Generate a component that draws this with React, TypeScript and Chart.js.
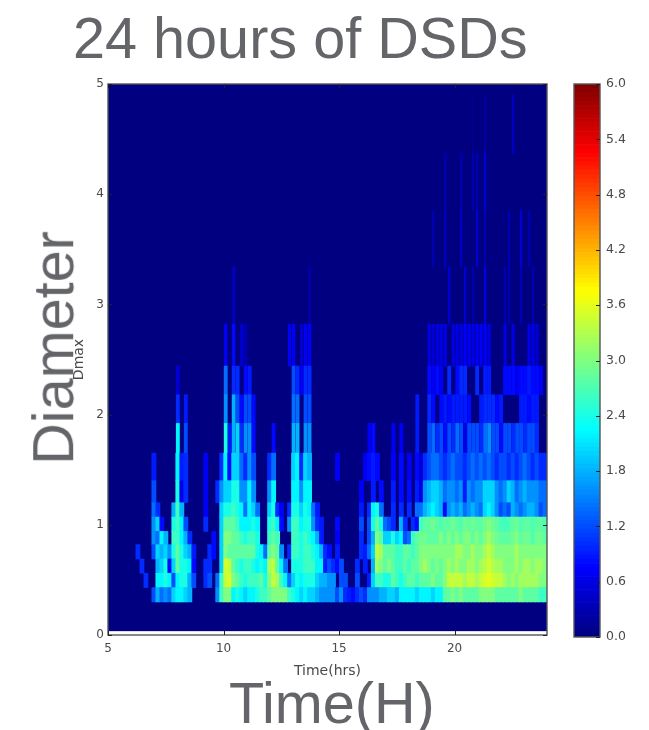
import React, { useEffect, useRef } from "react";
import { Chart, registerables } from "chart.js";

Chart.register(...registerables);

// Diameter bin edges (mm)
const diameterEdges = [0.3, 0.43, 0.56, 0.69, 0.82, 0.94, 1.07, 1.2, 1.4, 1.65, 1.92, 2.18, 2.44, 2.82, 3.34, 3.85, 4.37, 4.9];
const xTicksMin = 5;
const xTicksMax = 24;
const yMax = 5;
const heatFloor = 0.035;
const colorbarMax = 6;
const columnCount = 110;

// One list per diameter bin, one value per time column
const bin0 = [
  0,0,0,0,0,0,0,0,0,0,
  0,1.2,1.8,1.4,1.6,1.4,2.0,2.2,2.2,2.0,
  1.8,0,0,0,0,0,0,1.6,2.6,3.0,
  3.0,2.2,2.4,2.2,2.0,2.2,2.2,2.4,2.6,2.6,
  2.8,3.0,3.0,3.0,3.0,2.6,2.4,2.2,2.0,2.2,
  2.0,2.0,1.8,1.6,1.6,1.6,1.6,1.2,1.6,1.0,
  0.9,0.8,1.0,1.2,1.0,1.6,1.6,1.6,1.8,1.8,
  2.0,2.0,1.8,2.2,2.2,2.2,2.2,2.0,2.2,2.2,
  2.2,2.0,2.2,2.2,2.8,2.8,3.0,2.8,3.0,2.8,
  2.8,2.8,2.8,3.0,3.0,3.0,3.0,2.8,2.8,2.8,
  2.8,2.8,2.8,3.0,2.8,2.8,2.8,2.8,2.6,2.6,
];
const bin1 = [
  0,0,0,0,0,0,0,0,0,1.0,
  0,0,2.2,2.2,2.4,2.2,1.2,2.2,2.4,2.4,
  1.8,1.2,0,0,1.0,1.2,0,1.4,2.6,3.4,
  3.5,3.0,2.8,2.6,2.4,2.6,2.6,2.6,2.8,2.4,
  3.0,3.4,3.2,2.6,2.2,1.4,2.0,2.4,2.2,2.4,
  2.4,2.4,2.0,1.8,1.8,1.6,1.6,0,1.2,1.2,
  0,0,1.2,0,0,0.9,2.0,2.6,2.6,2.4,
  2.4,2.8,2.6,2.4,2.6,2.8,2.8,2.6,2.8,2.8,
  2.8,3.0,2.8,2.8,3.0,3.4,3.4,3.4,3.4,3.2,
  3.4,3.4,3.2,3.4,3.5,3.6,3.5,3.4,3.4,3.2,
  3.0,3.2,3.0,3.2,3.2,3.2,3.2,3.2,3.0,3.0,
];
const bin2 = [
  0,0,0,0,0,0,0,0,1.0,0,
  0,0,1.8,2.0,2.4,0.8,2.0,2.8,2.4,2.4,
  2.2,0.8,0,0,1.0,1.0,0,0,2.0,3.5,
  3.4,2.8,2.6,2.4,2.6,2.6,2.4,2.2,2.4,2.2,
  3.2,3.4,2.8,2.2,1.4,0,2.4,2.4,2.4,2.6,
  2.6,2.6,2.2,2.2,0.9,1.2,1.0,0.8,1.2,0,
  0,0,1.0,0,0.9,0,1.8,3.2,3.0,2.8,
  3.0,2.8,2.6,2.6,2.8,2.6,2.8,2.8,3.0,3.2,
  3.0,2.8,3.0,2.8,3.0,3.2,3.0,3.2,3.0,3.0,
  3.2,3.2,3.0,3.2,3.3,3.5,3.3,3.2,3.2,3.0,
  3.0,3.0,3.2,3.0,3.2,3.2,3.0,3.2,3.2,3.0,
];
const bin3 = [
  0,0,0,0,0,0,0,1.0,0,0,
  0,1.2,2.0,1.8,2.0,1.6,2.4,2.8,2.4,2.0,
  1.8,0.9,0,0,0,1.0,0.8,0,2.0,3.0,
  2.8,2.8,2.8,2.8,2.8,2.8,2.8,2.4,2.2,1.4,
  2.8,3.0,2.8,1.6,0,1.0,2.6,2.6,2.4,2.6,
  2.6,2.4,2.2,1.8,1.0,0.8,0,0.9,0,0,
  0,0,0,1.0,0.9,1.4,2.0,3.4,3.2,2.8,
  2.8,2.8,2.6,2.6,2.8,2.8,2.6,2.8,3.0,3.0,
  3.0,3.0,3.0,3.0,3.0,3.0,3.0,3.2,3.2,3.0,
  3.0,3.2,3.0,3.0,3.2,3.4,3.2,3.0,3.0,3.0,
  3.0,3.0,3.2,3.0,3.0,3.0,3.0,3.0,3.0,3.0,
];
const bin4 = [
  0,0,0,0,0,0,0,0,0,0,
  0,1.6,1.4,2.2,1.8,0,2.6,2.6,2.2,1.8,
  1.0,0,0,0,0,0,0.8,0,2.0,3.0,
  3.0,2.8,2.8,2.6,2.4,2.6,2.6,2.4,0,0,
  2.6,2.8,2.6,0,0,0,2.6,2.6,2.4,2.6,
  2.4,2.2,1.8,0.9,0,0,0,0.7,0,0,
  0,0,0,1.0,0,1.2,1.8,3.0,2.8,2.0,
  2.0,2.4,2.0,2.2,1.2,1.4,2.6,2.8,2.9,2.9,
  2.8,2.8,2.8,3.0,2.8,3.0,2.8,3.0,2.8,3.0,
  3.0,2.8,3.0,2.8,3.0,3.2,3.0,2.9,2.8,2.8,
  2.8,2.9,3.0,2.8,2.9,2.9,2.7,2.9,2.9,2.8,
];
const bin5 = [
  0,0,0,0,0,0,0,0,0,0,
  0,1.6,2.0,0.8,0,0,2.4,2.6,2.2,1.2,
  0,0,0,0,1.0,0,0,0,2.0,2.8,
  2.8,2.8,2.6,2.2,2.2,2.2,2.4,2.2,0,0,
  2.4,2.6,2.2,0.8,0,1.6,2.6,2.6,2.2,2.4,
  2.4,1.6,1.0,0.9,0,0,0,0.8,0,0,
  0,0,0,1.2,0,1.2,2.4,2.8,2.4,1.4,
  1.2,1.0,0,1.8,1.0,0,1.0,0.8,2.6,2.8,
  2.8,2.9,2.8,2.7,2.8,2.8,2.9,2.8,2.7,2.9,
  2.8,2.9,2.8,2.8,2.9,3.0,2.9,2.8,2.7,2.6,
  2.7,2.8,2.9,2.7,2.8,2.8,2.7,2.8,2.8,2.7,
];
const bin6 = [
  0,0,0,0,0,0,0,0,0,0,
  0,1.4,1.0,0,0,0,1.8,2.6,1.8,0,
  0,0,0,0,0.7,0,0,0,2.0,2.4,
  2.4,2.6,2.4,2.2,1.4,2.2,2.0,1.4,0,0,
  2.0,2.4,1.0,0.7,0,1.0,2.4,2.4,2.0,2.4,
  2.2,1.4,0.9,0,0,0,0,0,0,0,
  0,0,0,0.9,0,1.0,2.2,2.4,1.4,0,
  0,1.0,0,1.0,0,1.0,0,1.4,1.4,1.8,
  2.0,2.2,2.0,1.8,0.8,1.6,1.8,1.6,1.8,1.4,
  1.6,1.8,1.6,1.4,2.0,2.2,2.0,1.6,1.2,1.4,
  1.2,1.8,1.6,1.4,1.6,1.8,1.8,1.6,1.2,1.4,
];
const bin7 = [
  0,0,0,0,0,0,0,0,0,0,
  0,1.2,0,0,0,0,0,2.4,0.6,1.0,
  0,0,0,0,0.7,0,0,1.0,1.6,2.0,
  2.0,2.4,2.4,1.6,1.6,2.2,1.6,0,0,0,
  1.6,2.2,0,0,0,0,2.2,2.2,1.6,2.2,
  2.2,0,0,0,0,0,0,0,0,0,
  0,0,0,0.7,0,0,0.9,0,0.8,0,
  0,0.9,0,0.8,0,0.8,0,0.9,0.6,1.6,
  1.8,2.0,2.0,1.8,1.4,1.6,1.6,1.4,1.6,0.9,
  1.6,1.4,1.6,1.6,2.0,2.0,2.0,1.6,1.4,1.6,
  2.0,1.8,1.4,1.6,1.8,1.6,1.6,1.6,1.4,1.4,
];
const bin8 = [
  0,0,0,0,0,0,0,0,0,0,
  0,0.9,0,0,0,0,0,2.2,0.9,1.0,
  0,0,0,0,0.7,0,0,0,1.0,2.2,
  0.8,2.0,2.0,1.4,1.0,1.6,1.2,0,0,0,
  1.0,1.4,0,0,0,0,2.0,2.2,1.0,2.0,
  1.8,0,0,0,0,0,0,0.7,0,0,
  0,0,0,0,0.7,0.8,0.9,0.8,0,0,
  0,0.7,0,0.8,0,0.7,0,0.8,0.5,1.0,
  1.2,1.4,1.4,1.2,1.0,1.2,1.4,1.2,1.2,1.0,
  1.2,1.4,1.2,1.4,1.2,1.4,1.2,1.0,1.2,1.2,
  1.0,1.2,1.0,1.2,1.4,1.2,1.0,1.2,1.0,1.0,
];
const bin9 = [
  0,0,0,0,0,0,0,0,0,0,
  0,0,0,0,0,0,0,2.2,0,1.2,
  0,0,0,0,0,0,0,0,0,2.4,
  0.9,1.8,2.0,1.0,1.6,1.6,0.8,0,0,0,
  0,0.8,0,0,0,0,1.8,1.8,0,1.6,
  1.6,0,0,0,0,0,0,0,0,0,
  0,0,0,0,0,0.7,0.8,0,0,0,
  0,0.7,0,0.7,0,0,0,0.9,0,0,
  1.2,1.4,1.0,1.2,0.8,1.2,1.0,1.4,1.2,0.6,
  1.2,1.2,1.2,1.0,1.4,1.6,1.2,1.2,0.8,1.2,
  1.2,1.0,1.2,1.2,1.0,1.2,1.2,1.0,0,0,
];
const bin10 = [
  0,0,0,0,0,0,0,0,0,0,
  0,0,0,0,0,0,0,1.0,0,0.9,
  0,0,0,0,0,0,0,0,0,1.6,
  0,1.8,1.2,0.8,1.2,1.2,0.8,0,0,0,
  0,0,0,0,0,0,1.4,1.4,0,1.2,
  1.2,0,0,0,0,0,0,0,0,0,
  0,0,0,0,0,0,0,0,0,0,
  0,0,0,0,0,0,0,0.9,0,0,
  1.0,0.8,0,0.8,0.9,0.8,0.9,0.9,0.9,0.9,
  0.8,0,0,0.9,1.0,1.0,1.0,0.8,0.9,0,
  0,0,0,0.9,0.9,0.8,0.9,0.9,0,0,
];
const bin11 = [
  0,0,0,0,0,0,0,0,0,0,
  0,0,0,0,0,0,0,0.5,0,0,
  0,0,0,0,0,0,0,0,0,1.4,
  0,1.0,1.0,0,0.8,0.9,0,0,0,0,
  0,0,0,0,0,0,1.2,1.0,0.7,1.0,
  1.0,0,0,0,0,0,0,0,0,0,
  0,0,0,0,0,0,0,0,0,0,
  0,0,0,0,0,0,0,0,0,0,
  0.8,0.7,0.8,0.7,0,1.0,0,0.8,1.0,1.0,
  0,0,1.0,0,0.9,0.9,0,0,0,0.8,
  0.8,0.8,0.7,0.8,0.8,0.9,0.8,0.8,0.7,0,
];
const bin12 = [
  0,0,0,0,0,0,0,0,0,0,
  0,0,0,0,0,0,0,0,0,0,
  0,0,0,0,0,0,0,0,0,0.7,
  0,0.8,0,0.5,0.3,0,0,0,0,0,
  0,0,0,0,0,0.7,0.7,0,0.5,0.7,
  0.7,0,0,0,0,0,0,0,0,0,
  0,0,0,0,0,0,0,0,0,0,
  0,0,0,0,0,0,0,0,0,0,
  0.6,0.5,0.6,0.6,0.6,0,0.6,0.6,0.6,0.7,
  0.7,0.6,0.7,0.7,0.7,0.6,0,0,0,0.6,
  0,0.6,0,0,0,0.6,0.6,0.5,0,0,
];
const bin13 = [
  0,0,0,0,0,0,0,0,0,0,
  0,0,0,0,0,0,0,0,0,0,
  0,0,0,0,0,0,0,0,0,0,
  0,0.5,0,0,0,0,0,0,0,0,
  0,0,0,0,0,0,0,0,0,0,
  0.3,0,0,0,0,0,0,0,0,0,
  0,0,0,0,0,0,0,0,0,0,
  0,0,0,0,0,0,0,0,0,0,
  0,0,0,0,0,0.5,0,0,0,0.5,
  0,0.3,0,0,0.6,0,0,0,0,0.3,
  0.3,0,0,0.3,0,0,0.3,0,0,0,
];
const bin14 = [
  0,0,0,0,0,0,0,0,0,0,
  0,0,0,0,0,0,0,0,0,0,
  0,0,0,0,0,0,0,0,0,0,
  0,0,0,0,0,0,0,0,0,0,
  0,0,0,0,0,0,0,0,0,0,
  0,0,0,0,0,0,0,0,0,0,
  0,0,0,0,0,0,0,0,0,0,
  0,0,0,0,0,0,0,0,0,0,
  0,0.3,0,0,0.4,0,0,0,0.4,0,
  0,0,0.5,0,0.3,0,0,0,0,0,
  0.3,0,0,0.5,0,0.3,0,0,0,0,
];
const bin15 = [
  0,0,0,0,0,0,0,0,0,0,
  0,0,0,0,0,0,0,0,0,0,
  0,0,0,0,0,0,0,0,0,0,
  0,0,0,0,0,0,0,0,0,0,
  0,0,0,0,0,0,0,0,0,0,
  0,0,0,0,0,0,0,0,0,0,
  0,0,0,0,0,0,0,0,0,0,
  0,0,0,0,0,0,0,0,0,0,
  0,0,0,0,0.3,0,0,0,0.3,0,
  0,0.3,0.3,0,0.5,0,0,0,0,0,
  0,0,0,0,0,0,0,0,0,0,
];
const bin16 = [
  0,0,0,0,0,0,0,0,0,0,
  0,0,0,0,0,0,0,0,0,0,
  0,0,0,0,0,0,0,0,0,0,
  0,0,0,0,0,0,0,0,0,0,
  0,0,0,0,0,0,0,0,0,0,
  0,0,0,0,0,0,0,0,0,0,
  0,0,0,0,0,0,0,0,0,0,
  0,0,0,0,0,0,0,0,0,0,
  0,0,0,0,0,0,0,0,0,0,
  0,0.1,0,0,0.2,0,0,0,0,0,
  0,0.4,0,0,0,0,0,0,0,0,
];

const bins = [bin0, bin1, bin2, bin3, bin4, bin5, bin6, bin7, bin8, bin9, bin10, bin11, bin12, bin13, bin14, bin15, bin16];

const GRAY = "#636569";
const TICK_GRAY = "#4a4a4a";
const FRAME = "#555555";
const TICK_FONT = "'DejaVu Sans'";

function jet(v: number): string {
  const t = Math.max(0, Math.min(1, v / colorbarMax));
  const c = (k: number) => Math.round(255 * Math.max(0, Math.min(1, 1.5 - Math.abs(4 * t - k))));
  return `rgb(${c(3)},${c(2)},${c(1)})`;
}

// sparse upper bins are drawn as finer stripes
function stripeWidth(binIndex: number): number {
  if (binIndex >= 13) return 1.6;
  if (binIndex === 12) return 2.6;
  if (binIndex >= 9) return 3.2;
  return 4.2;
}

const framePlugin = {
  id: "frame",
  beforeDatasetsDraw(chart: any) {
    const opts = chart.options.plugins.frame;
    if (!opts.field) return;
    const { ctx, scales } = chart;
    ctx.save();
    ctx.fillStyle = jet(0);
    const yTop = scales.y.getPixelForValue(yMax);
    const yBottom = scales.y.getPixelForValue(heatFloor);
    ctx.fillRect(chart.chartArea.left, yTop, chart.chartArea.width, yBottom - yTop);
    ctx.restore();
  },
  afterDraw(chart: any) {
    const opts = chart.options.plugins.frame;
    const { ctx, chartArea: a, scales } = chart;
    ctx.save();
    ctx.strokeStyle = FRAME;
    ctx.lineWidth = 1.4;
    ctx.strokeRect(a.left, a.top, a.width, a.height);
    ctx.lineWidth = 1;
    ctx.strokeStyle = "#222222";
    ctx.beginPath();
    const len = 4;
    if (opts.field) {
      for (const t of scales.x.ticks) {
        const x = Math.round(scales.x.getPixelForValue(t.value)) + 0.5;
        ctx.moveTo(x, a.bottom);
        ctx.lineTo(x, a.bottom - len);
        ctx.moveTo(x, a.top);
        ctx.lineTo(x, a.top + len);
      }
    }
    for (const t of scales.y.ticks) {
      const y = Math.round(scales.y.getPixelForValue(t.value)) + 0.5;
      if (opts.field) {
        ctx.moveTo(a.left, y);
        ctx.lineTo(a.left + len, y);
      }
      ctx.moveTo(a.right, y);
      ctx.lineTo(a.right - len, y);
    }
    ctx.stroke();
    ctx.restore();
  },
};

function App() {
  const mainRef = useRef<HTMLCanvasElement>(null);
  const barRef = useRef<HTMLCanvasElement>(null);

  useEffect(() => {
    document.body.style.margin = "0";
    const dt = (xTicksMax - xTicksMin) / columnCount;
    const datasets = bins.map((row, r) => {
      const data: any[] = [];
      const colors: string[] = [];
      row.forEach((v, i) => {
        if (v > 0) {
          data.push({ x: xTicksMin + (i + 0.5) * dt, y: [diameterEdges[r], diameterEdges[r + 1]] });
          colors.push(jet(v));
        }
      });
      return {
        label: `bin ${r}`,
        data,
        backgroundColor: colors,
        borderWidth: 0,
        barThickness: stripeWidth(r),
        grouped: false,
      };
    });

    const main = new Chart(mainRef.current!, {
      type: "bar",
      data: { datasets } as any,
      plugins: [framePlugin],
      options: {
        animation: false,
        responsive: false,
        layout: { padding: { left: 71, top: 84, right: 102, bottom: 50 } },
        plugins: { legend: { display: false }, tooltip: { enabled: false }, frame: { field: true } } as any,
        scales: {
          x: {
            type: "linear",
            offset: false,
            min: xTicksMin,
            max: xTicksMax,
            grid: { display: false, drawTicks: false },
            border: { display: false },
            afterFit(scale: any) { scale.height = 45; },
            ticks: {
              stepSize: 5,
              includeBounds: false,
              maxRotation: 0,
              padding: 7,
              color: TICK_GRAY,
              font: { family: TICK_FONT, size: 12 },
            },
            title: {
              display: true,
              text: "Time(hrs)",
              color: TICK_GRAY,
              font: { family: TICK_FONT, size: 14 },
              padding: { top: 0, bottom: 0 },
            },
          } as any,
          y: {
            min: 0,
            max: yMax,
            grid: { display: false, drawTicks: false },
            border: { display: false },
            afterFit(scale: any) { scale.width = 37; },
            ticks: {
              stepSize: 1,
              padding: 4,
              color: TICK_GRAY,
              font: { family: TICK_FONT, size: 12 },
            },
            title: {
              display: true,
              text: "Dmax",
              color: TICK_GRAY,
              font: { family: TICK_FONT, size: 14 },
              padding: { top: 0, bottom: 0 },
            },
          },
        },
      },
    });

    const steps = 128;
    const levelSets = [];
    for (let i = 0; i < steps; i++) {
      const lo = (i / steps) * colorbarMax;
      const hi = ((i + 1) / steps) * colorbarMax;
      levelSets.push({
        label: `level ${i}`,
        data: [[lo, hi]],
        backgroundColor: jet((lo + hi) / 2),
        borderWidth: 0,
        grouped: false,
        categoryPercentage: 1,
        barPercentage: 1,
      });
    }
    const bar = new Chart(barRef.current!, {
      type: "bar",
      data: { labels: ["scale"], datasets: levelSets } as any,
      plugins: [framePlugin],
      options: {
        animation: false,
        responsive: false,
        layout: { padding: { left: 14, top: 84, right: 0, bottom: 93 } },
        plugins: { legend: { display: false }, tooltip: { enabled: false }, frame: { field: false } } as any,
        scales: {
          x: { display: false },
          y: {
            position: "right",
            min: 0,
            max: colorbarMax,
            grid: { display: false, drawTicks: false },
            border: { display: false },
            afterFit(scale: any) { scale.width = 49; },
            ticks: {
              stepSize: 0.6,
              padding: 6,
              color: TICK_GRAY,
              font: { family: TICK_FONT, size: 12.5 },
              callback: (v: any) => Number(v).toFixed(1),
            },
          },
        },
      },
    });

    return () => {
      main.destroy();
      bar.destroy();
    };
  }, []);

  const big: React.CSSProperties = {
    position: "absolute",
    fontFamily: "'Liberation Sans', sans-serif",
    color: GRAY,
    lineHeight: 1,
    whiteSpace: "nowrap",
  };

  return (
    <div style={{ position: "absolute", left: 0, top: 0, width: 649, height: 730, overflow: "hidden", background: "#fff" }}>
      <canvas ref={mainRef} width={649} height={730} style={{ position: "absolute", left: 0, top: 0, filter: "blur(0.5px)" }} />
      <canvas ref={barRef} width={89} height={730} style={{ position: "absolute", left: 560, top: 0, filter: "blur(0.5px)" }} />
      <div style={{ ...big, left: 73, top: 10, fontSize: 57.6 }}>24 hours of DSDs</div>
      <div style={{ ...big, left: 54, top: 348, fontSize: 57.6, transform: "translate(-50%,-50%) rotate(-90deg)" }}>Diameter</div>
      <div style={{ ...big, left: 229, top: 675, fontSize: 57.6 }}>Time(H)</div>
    </div>
  );
}

export default App;
